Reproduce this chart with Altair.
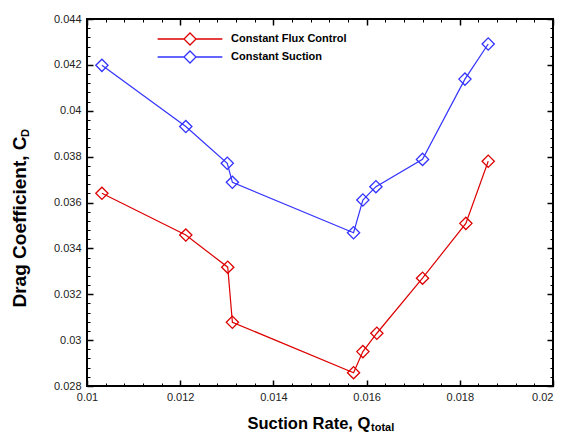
import altair as alt
import pandas as pd

series_names = ["Constant Flux Control", "Constant Suction"]
series_colors = ["#dd0000", "#3333ff"]

x_flux = [0.01032, 0.01212, 0.01302, 0.01312, 0.01572, 0.01592, 0.01622, 0.01720, 0.01813, 0.01861]
cd_flux = [0.0364, 0.03458, 0.03318, 0.03078, 0.02858, 0.0295, 0.0303, 0.0327, 0.03509, 0.0378]
x_suction = [0.01032, 0.01212, 0.01301, 0.01312, 0.01572, 0.01592, 0.01620, 0.01720, 0.01811, 0.01861]
cd_suction = [0.04198, 0.03931, 0.03771, 0.03688, 0.03468, 0.03611, 0.03669, 0.03788, 0.04138, 0.04291]

x_major = [0.01, 0.012, 0.014, 0.016, 0.018, 0.02]
y_major = [0.028, 0.03, 0.032, 0.034, 0.036, 0.038, 0.04, 0.042, 0.044]
x_minor = [round(0.01 + 0.0004 * i, 5) for i in range(26) if i % 5 != 0]
y_minor = [round(0.028 + 0.0004 * i, 5) for i in range(41) if i % 5 != 0]

rows = []
for name, xs, ys in [(series_names[0], x_flux, cd_flux), (series_names[1], x_suction, cd_suction)]:
    for i, (a, b) in enumerate(zip(xs, ys)):
        rows.append({"series": name, "Q": a, "CD": b, "idx": i})
df = pd.DataFrame(rows)

FONT = "Liberation Sans"
xscale = alt.Scale(domain=[0.01, 0.02], nice=False, zero=False)
yscale = alt.Scale(domain=[0.028, 0.044], nice=False, zero=False)
cscale = alt.Scale(domain=series_names, range=series_colors)


def tick_axis(orient, values, size, width, labels=False, **kw):
    return alt.Axis(orient=orient, values=values, offset=-size, tickSize=size,
                    tickWidth=width, tickColor="black", domain=False, grid=False,
                    labels=labels, title=None if "title" not in kw else kw.pop("title"), **kw)


label_style = dict(labelFont=FONT, labelFontSize=11, labelColor="#222222",
                   labelFlush=False, labelOverlap=False, format="~g")

x_label_axis = tick_axis("bottom", x_major, 6, 1.5, labels=True, labelPadding=5,
                         labelAlign={"condition": {"test": "datum.value >= 0.0199", "value": "right"},
                                     "value": "center"},
                         title="Suction Rate, Q", titleX=160, titleY=48,
                         titleAlign="left", titleBaseline="alphabetic",
                         titleFont=FONT, titleFontSize=16.5, titleFontWeight="bold",
                         titleColor="black", **label_style)
y_label_axis = tick_axis("left", y_major, 6, 1.5, labels=True, labelPadding=6,
                         title="Drag Coefficient, C", titleX=-68, titleY=288,
                         titleAlign="left", titleBaseline="alphabetic", titleAngle=270,
                         titleFont=FONT, titleFontSize=19, titleFontWeight="bold",
                         titleColor="black", **label_style)

legend_path = "M-5.4,0L-1,0M1,0L5.4,0M-1,0L0,-1L1,0L0,1Z"
legend = alt.Legend(
    title=None, orient="none", legendX=96, legendY=13, padding=0,
    symbolType=legend_path, symbolSize=144, symbolStrokeWidth=1.3,
    symbolFillColor="transparent",
    labelOffset=34, rowPadding=0, labelFont=FONT, labelFontSize=11,
    labelFontWeight="bold", labelColor="black")

base = alt.Chart(df)

lines = base.mark_line(strokeWidth=1.2).encode(
    x=alt.X("Q:Q", scale=xscale, axis=x_label_axis),
    y=alt.Y("CD:Q", scale=yscale, axis=y_label_axis),
    color=alt.Color("series:N", scale=cscale, legend=legend),
    order="idx:Q",
)

points = base.mark_point(shape="diamond", filled=False, size=150, strokeWidth=1.3, opacity=1).encode(
    x=alt.X("Q:Q", scale=xscale, axis=tick_axis("bottom", x_minor, 3, 1)),
    y=alt.Y("CD:Q", scale=yscale, axis=tick_axis("left", y_minor, 3, 1)),
    color=alt.Color("series:N", scale=cscale, legend=legend),
)

top_major = base.mark_point(opacity=0).encode(
    x=alt.X("Q:Q", scale=xscale, axis=tick_axis("top", x_major, 6, 1.5)),
    y=alt.Y("CD:Q", scale=yscale, axis=tick_axis("right", y_major, 6, 1.5)),
)
top_minor = base.mark_point(opacity=0).encode(
    x=alt.X("Q:Q", scale=xscale, axis=tick_axis("top", x_minor, 3, 1)),
    y=alt.Y("CD:Q", scale=yscale, axis=tick_axis("right", y_minor, 3, 1)),
)

sub_df = pd.DataFrame({"t": ["total"]})
sub_x = alt.Chart(sub_df).mark_text(font=FONT, fontSize=11, fontWeight="bold",
                                    align="left", baseline="alphabetic", color="black").encode(
    text="t:N", x=alt.value(284), y=alt.value(412))
sub_dfd = pd.DataFrame({"t": ["D"]})
sub_y = alt.Chart(sub_dfd).mark_text(font=FONT, fontSize=11, fontWeight="bold", angle=270,
                                     align="left", baseline="alphabetic", color="black").encode(
    text="t:N", x=alt.value(-58), y=alt.value(118))

chart = alt.layer(lines, points, top_major, top_minor, sub_x, sub_y).resolve_axis(
    x="independent", y="independent"
).properties(
    width=466, height=367,
    autosize=alt.AutoSizeParams(type="none"),
    padding={"left": 79, "top": 11, "right": 3, "bottom": 47},
).configure_view(stroke="black", strokeWidth=2)

chart.save("out.html", embed_options={"renderer": "svg", "actions": False})
